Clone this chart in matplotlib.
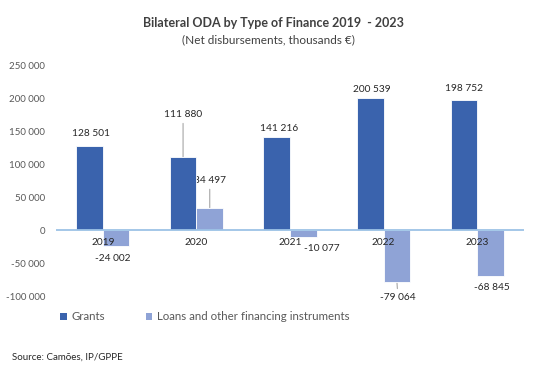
import numpy as np
import matplotlib

matplotlib.use("Agg")
import matplotlib.pyplot as plt
from matplotlib.patches import Patch

plt.rcParams["font.family"] = ["Lato", "DejaVu Sans"]

# data (net disbursements, thousands EUR)
years = ["2019", "2020", "2021", "2022", "2023"]
grants = [128501, 111880, 141216, 200539, 198752]
loans = [-24002, 34497, -10077, -79064, -68845]
series_names = ["Grants", "Loans and other financing instruments"]
y_ticks = [-100000, -50000, 0, 50000, 100000, 150000, 200000, 250000]

# label offsets in pixels (layout only), and which labels get a leader line
grant_offsets = [(2, 12), (0, 42), (2, 9), (2, 9), (0, 11)]
grant_leaders = [False, True, False, False, False]
loan_offsets = [(-3, -12), (0, 27), (18, -12), (1, -15), (1, -12)]
loan_leaders = [False, True, False, True, False]

GRANT_COLOR = "#3A63AD"
LOAN_COLOR = "#8FA3D6"
TEXT_DARK = "#262626"
TEXT_GREY = "#595959"


def fmt(v):
    s = f"{abs(v):,}".replace(",", " ")
    return ("-" if v < 0 else "") + s


def _label(ax, x, y, value, offset, leader):
    props = None
    if leader:
        props = dict(arrowstyle="-", color="#A6A6A6", lw=0.8, shrinkA=1, shrinkB=0)
    ax.annotate(
        fmt(value),
        xy=(x, y),
        xytext=offset,
        textcoords="offset pixels",
        ha="center",
        va="center",
        fontsize=7.3,
        color=TEXT_DARK,
        arrowprops=props,
        zorder=1,
    )


fig = plt.figure(figsize=(5.4, 3.73), dpi=100)
ax = fig.add_axes([0.1037, 0.2064, 0.8667, 0.6167])

x = np.arange(len(years))
width = 0.285
ax.bar(x - width / 2, grants, width, color=GRANT_COLOR, edgecolor="#FFFFFF",
       linewidth=0.6, zorder=2)
ax.bar(x + width / 2, loans, width, color=LOAN_COLOR, edgecolor="#FFFFFF",
       linewidth=0.6, zorder=2)

ax.axhline(0, color="#9DC3E6", lw=1.3, zorder=3)

for i in range(len(years)):
    _label(ax, x[i] - width / 2, grants[i], grants[i], grant_offsets[i], grant_leaders[i])
    _label(ax, x[i] + width / 2, loans[i], loans[i], loan_offsets[i], loan_leaders[i])
    ax.annotate(years[i], xy=(x[i], 0), xytext=(0, -12), textcoords="offset pixels",
                ha="center", va="center", fontsize=7.3, color=TEXT_DARK, zorder=4)

ax.set_xlim(-0.5, len(years) - 0.5)
ax.set_ylim(-100000, 250000)
ax.set_yticks(y_ticks)
ax.set_yticklabels([fmt(v) for v in y_ticks], fontsize=7, color=TEXT_GREY)
ax.tick_params(axis="y", length=0, pad=8)
ax.set_xticks([])
for side in ["top", "right", "bottom", "left"]:
    ax.spines[side].set_visible(False)

fig.text(0.507, 1 - 23 / 373, "Bilateral ODA by Type of Finance 2019  - 2023",
         ha="center", va="center", fontsize=9, fontweight="bold", color="#404040")
fig.text(0.498, 1 - 40 / 373, "(Net disbursements, thousands \u20ac)",
         ha="center", va="center", fontsize=8.5, color="#404040")

handles = [Patch(facecolor=GRANT_COLOR), Patch(facecolor=LOAN_COLOR)]
fig.legend(handles, series_names, loc="center left", bbox_to_anchor=(60 / 540, 1 - 317 / 373),
           ncol=2, frameon=False, fontsize=8.3, handlelength=0.6, handleheight=0.6,
           handletextpad=0.4, columnspacing=3.5, borderpad=0, borderaxespad=0,
           labelcolor=TEXT_GREY)

fig.text(12 / 540, 1 - 357 / 373, "Source: Cam\u00f5es, IP/GPPE", ha="left", va="center",
         fontsize=7, color=TEXT_DARK)

fig.savefig("out.png", dpi=100)
